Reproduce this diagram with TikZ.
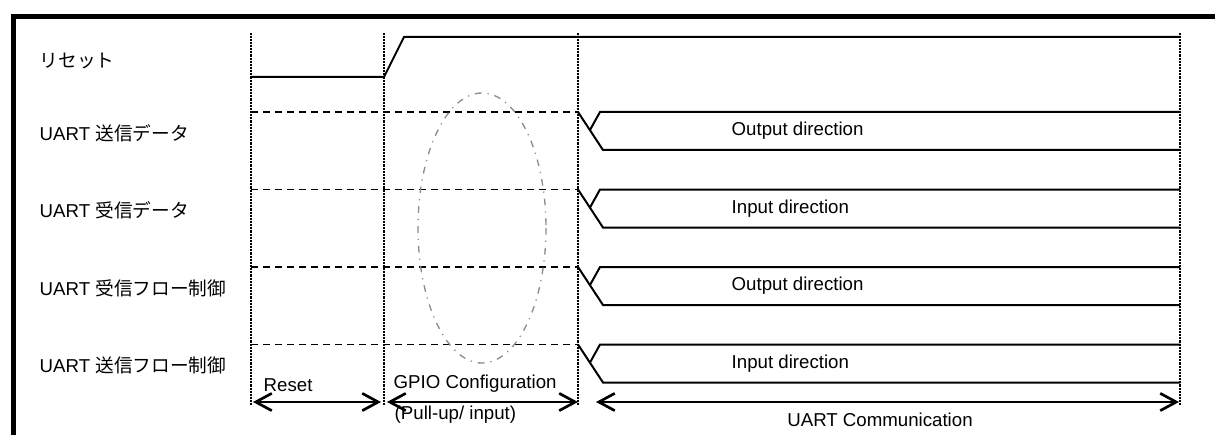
\documentclass[tikz,border=0pt]{standalone}
\usepackage{fontspec}
\setmainfont{Liberation Sans}
\newfontfamily\jp{Noto Sans CJK JP}
\usetikzlibrary{arrows.meta}

\begin{document}
\begin{tikzpicture}[x=0.75pt, y=-0.75pt, font=\fontsize{14}{16}\selectfont,
        sig/.style={line width=1.5pt},
        guide/.style={line width=0.9pt, dash pattern=on 0.6pt off 0.5pt},
        idle/.style={line width=1.4pt, dash pattern=on 5.5pt off 3.5pt},
        span/.style={line width=2pt, <->, >={Straight Barb[length=12pt, width=13pt]}},
        blob/.style={black!45, line width=1pt, dash pattern=on 5pt off 4.5pt on 0.9pt off 4.5pt}]

        \useasboundingbox (0,0) rectangle (1215,435);

        % frame (only top and left edge are visible)
        \draw[line width=3.75pt, line join=miter] (13.5,435) -- (13.5,16.5) -- (1215,16.5);

        % phase boundaries
        \foreach \x/\n in {251/0, 384/1, 578/2, 1180/3}
                \draw[guide] (\x,33) coordinate (top\n) -- (\x,405) coordinate (bot\n);

        % reset line
        \node[right] (rst) at (35,61) {\jp リセット};
        \draw[sig] (251,77) -- (384,77) -- (404,37) -- (1180,37);

        % UART lines: undefined during reset/GPIO, then driven
        \foreach \i/\name/\dir in {0/送信データ/Output direction, 1/受信データ/Input direction,
                                   2/受信フロー制御/Output direction, 3/送信フロー制御/Input direction}
        {
                \pgfmathsetmacro\u{112+77.5*\i}
                \node[right] (lbl\i) at (35,\u+21) {UART {\jp \name}};
                \draw[idle] (251,\u) -- (578,\u);
                \draw[sig] (578,\u) -- (603,\u+38) -- (1180,\u+38);
                \draw[sig] (590,\u+18) -- (600,\u) -- (1180,\u);
                \node[right] (dir\i) at (727,\u+19) {\dir};
        }

        % pull-up region
        \draw[blob] (482,228) ellipse [x radius=64, y radius=135];

        % phases
        \coordinate (r0) at (253,402);  \coordinate (r1) at (381,402);
        \coordinate (g0) at (387,402);  \coordinate (g1) at (578,402);
        \coordinate (u0) at (596,402);  \coordinate (u1) at (1179,402);
        \draw[span] (r0) -- (r1);
        \draw[span] (g0) -- (g1);
        \draw[span] (u0) -- (u1);
        \node[right] (rlbl) at (259,385) {Reset};
        \node[right] (glbl) at (389,384) {GPIO Configuration};
        \node[right] (plbl) at (390,415) {(Pull-up/ input)};
        \node (ulbl) at (880,420) {UART Communication};

\end{tikzpicture}
\end{document}
